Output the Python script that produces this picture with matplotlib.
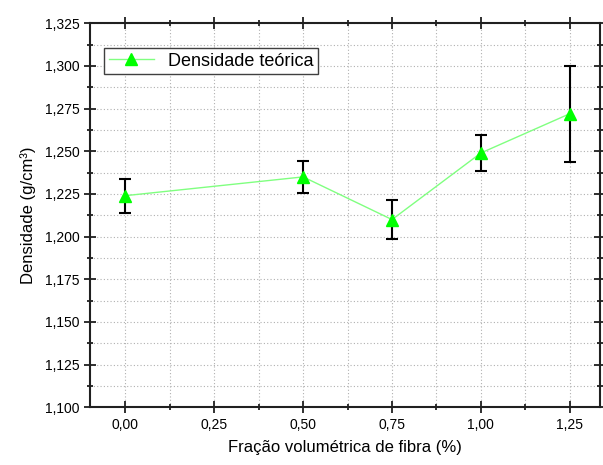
import matplotlib
matplotlib.use('Agg')
import matplotlib.pyplot as plt
from matplotlib.ticker import MultipleLocator, FuncFormatter

plt.rcParams['font.family'] = ['Liberation Sans', 'DejaVu Sans']

# fraction of fibre (%) vs theoretical density
fracao = [0.00, 0.50, 0.75, 1.00, 1.25]
densidade = [1.224, 1.235, 1.210, 1.249, 1.272]
erro = [0.010, 0.0095, 0.0115, 0.0105, 0.028]

fig = plt.figure(figsize=(6.03, 4.65), dpi=100)
ax = fig.add_axes([0.149, 0.124, 0.846, 0.826])

ax.errorbar(fracao, densidade, yerr=erro, fmt='none', ecolor='black',
            elinewidth=1.5, capsize=4, capthick=1.5, zorder=3)
ax.plot(fracao, densidade, color='#80ff80', lw=1, marker='^', ms=9,
        mfc='#00ff00', mec='#00ff00', label='Densidade teórica', zorder=4)

ax.set_xlim(-0.1, 1.335)
ax.set_ylim(1.100, 1.325)
ax.xaxis.set_major_locator(MultipleLocator(0.25))
ax.xaxis.set_minor_locator(MultipleLocator(0.125))
ax.yaxis.set_major_locator(MultipleLocator(0.025))
ax.yaxis.set_minor_locator(MultipleLocator(0.0125))
ax.xaxis.set_major_formatter(FuncFormatter(lambda v, p: f'{v:.2f}'.replace('.', ',')))
ax.yaxis.set_major_formatter(FuncFormatter(lambda v, p: f'{v:.3f}'.replace('.', ',')))

ax.grid(which='both', color='#b0b0b0', ls=(0, (1, 2)), lw=0.8)
ax.set_axisbelow(True)

for s in ax.spines.values():
    s.set_linewidth(1.5)
    s.set_color('#202020')

ax.tick_params(which='both', direction='inout', top=True, right=True,
               labelsize=10, width=1.3, color='#202020')
ax.tick_params(which='major', length=8)
ax.tick_params(which='minor', length=5)

ax.set_xlabel('Fração volumétrica de fibra (%)', fontsize=12, labelpad=6)
ax.set_ylabel('Densidade (g/cm³)', fontsize=12, labelpad=6)

leg = ax.legend(loc='upper left', bbox_to_anchor=(0.028, 0.935), fontsize=13,
                fancybox=False, edgecolor='#404040', framealpha=1,
                borderpad=0.25, handlelength=2.5, borderaxespad=0)
leg.get_frame().set_linewidth(1)

fig.savefig('out.png', dpi=100)
